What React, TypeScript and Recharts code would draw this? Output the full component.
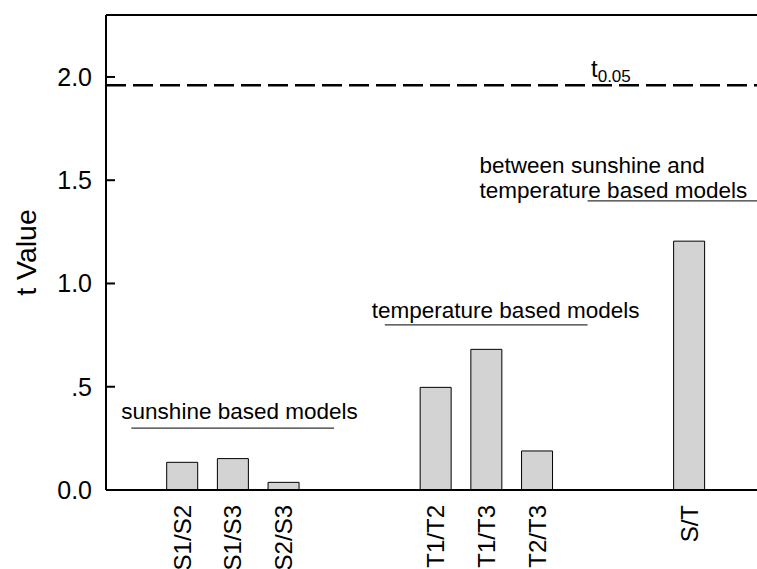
import { BarChart, Bar, XAxis, YAxis, ReferenceLine } from 'recharts';

// category slots, blanks (prefixed with _) keep the gaps between the groups
const slots = ['_a', 'S1/S2', 'S1/S3', 'S2/S3', '_b', '_c', 'T1/T2', 'T1/T3', 'T2/T3', '_d', '_e', 'S/T', '_f'];
const tValues = [null, 0.134, 0.152, 0.037, null, null, 0.497, 0.681, 0.189, null, null, 1.205, null];

const yTicks = [0, 0.5, 1, 1.5, 2];
const yTickLabels = ['0.0', '.5', '1.0', '1.5', '2.0'];
const yMax = 2.3;
const tCritical = 1.96;

// group annotations: text lines, underline from/to slot and its height
const groupText = [['sunshine based models'], ['temperature based models'], ['between sunshine and', 'temperature based models']];
const groupFrom = ['_a', '_c', '_d'];
const groupTo = ['_b', '_d', '_f'];
const groupY = [0.3, 0.8, 1.4];
// label offsets from the start of each underline, and overhang past the end (px)
const groupDx = [-10, -13, -108];
const groupDy = [-9, -7, -3];
const groupExtend = [0, 0, 25];

const data = slots.map((s, i) => ({ slot: s, t: tValues[i] }));

const FONT = '"Liberation Sans", Arial, Helvetica, sans-serif';

function YTick(props: any) {
  const { x, y, payload } = props;
  const i = yTicks.indexOf(payload.value);
  return (
    <g>
      <line x1={x} x2={x + 9} y1={y} y2={y} stroke="#000" strokeWidth={2} />
      <text x={x - 14} y={y} dy="0.36em" textAnchor="end" fontSize={25} fill="#000">
        {yTickLabels[i]}
      </text>
    </g>
  );
}

function XTick(props: any) {
  const { x, y, payload } = props;
  const v = String(payload.value);
  if (v.startsWith('_')) return <g />;
  return (
    <text x={x} y={y} transform={`rotate(-90, ${x}, ${y})`} textAnchor="end" dy="0.36em" fontSize={24} fill="#000">
      {v}
    </text>
  );
}

function GroupLabel(props: any) {
  const { viewBox, lines, dx, dy } = props;
  const lh = 25;
  return (
    <text fontSize={22.5} fill="#000">
      {lines.map((l: string, i: number) => (
        <tspan key={i} x={viewBox.x + dx} y={viewBox.y + dy - (lines.length - 1 - i) * lh}>{l}</tspan>
      ))}
    </text>
  );
}

function TLabel(props: any) {
  const { viewBox } = props;
  const x = viewBox.x + viewBox.width * 0.736;
  return (
    <text x={x} y={viewBox.y - 8} fontSize={24} fill="#000">
      t<tspan fontSize={17} dy={5}>0.05</tspan>
    </text>
  );
}

function YLabel(props: any) {
  const { viewBox } = props;
  const x = viewBox.x + 26;
  const y = viewBox.y + viewBox.height / 2;
  return (
    <text x={x} y={y} transform={`rotate(-90, ${x}, ${y})`} textAnchor="middle" dy="0.36em" fontSize={28.5} fill="#000">
      t Value
    </text>
  );
}

export default function App() {
  return (
    <div style={{ position: 'fixed', left: 0, top: 0, width: 757, height: 569, overflow: 'hidden', background: '#fff', fontFamily: FONT }}>
      <BarChart width={775} height={600} data={data} margin={{ top: 15, right: 10, left: 0, bottom: 0 }} barSize={31}>
        <XAxis
          dataKey="slot"
          interval={0}
          height={110}
          tickSize={0}
          tickMargin={15}
          tickLine={false}
          tick={<XTick />}
          axisLine={{ stroke: '#000', strokeWidth: 2 }}
        />
        <YAxis
          width={106}
          domain={[0, yMax]}
          ticks={yTicks}
          allowDataOverflow
          tickSize={0}
          tickMargin={0}
          tickLine={false}
          tick={<YTick />}
          axisLine={{ stroke: '#000', strokeWidth: 2 }}
          label={<YLabel />}
        />
        <ReferenceLine y={yMax} stroke="#000" strokeWidth={2} />
        <ReferenceLine y={tCritical} stroke="#000" strokeWidth={2.5} strokeDasharray="20 7" label={<TLabel />} />
        {groupText.map((lines, i) => (
          <ReferenceLine
            key={i}
            segment={[{ x: groupFrom[i], y: groupY[i] }, { x: groupTo[i], y: groupY[i] }]}
            stroke="#333"
            strokeWidth={1.2}
            shape={(p: any) => (
              <line x1={p.x1} y1={p.y1} x2={p.x2 + groupExtend[i]} y2={p.y2} stroke="#333" strokeWidth={1.2} />
            )}
            label={<GroupLabel lines={lines} dx={groupDx[i]} dy={groupDy[i]} />}
          />
        ))}
        <Bar dataKey="t" fill="#d3d3d3" stroke="#000" strokeWidth={1} isAnimationActive={false} />
      </BarChart>
    </div>
  );
}
